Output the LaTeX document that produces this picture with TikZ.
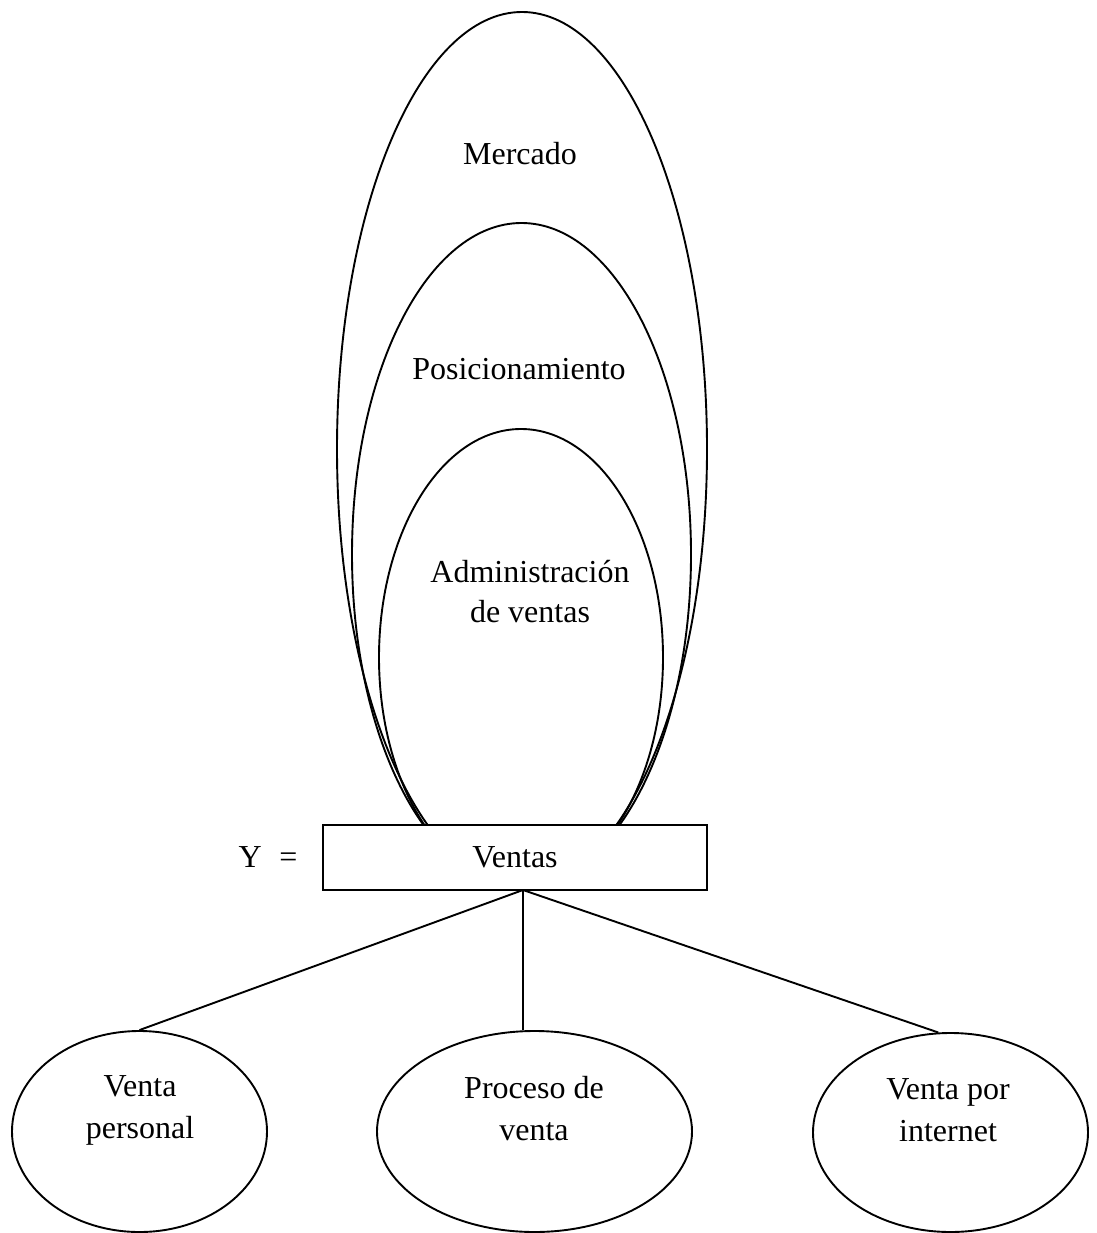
\documentclass[tikz,border=0pt]{standalone}
\usepackage{fontspec}
\setmainfont{Liberation Serif}
\usetikzlibrary{shapes.geometric}
\begin{document}
\begin{tikzpicture}[x=1pt,y=-1pt,
  every node/.style={font=\fontsize{32}{40}\selectfont},
  oval/.style={draw,ellipse,line width=1.9pt,inner sep=0pt},
  lbl/.style={anchor=base,inner sep=0pt,align=center},
  lbl2/.style={anchor=base,inner sep=0pt,align=center,font=\fontsize{32}{42}\selectfont},
  conn/.style={line width=1.9pt}]
\useasboundingbox (0,0) rectangle (1096,1233);
% nested ovals
\node[oval,minimum width=370pt,minimum height=874pt] (mercado) at (522,449) {};
\node[oval,minimum width=339pt,minimum height=663pt] (posic) at (521.5,554.5) {};
\node[oval,minimum width=284pt,minimum height=457pt] (admin) at (521,657.5) {};
\node[lbl] (tmerc) at (520,165) {Mercado};
\node[lbl] (tposic) at (519,379) {Posicionamiento};
% base anchor of a two-line node = baseline of its last line
\node[lbl] (tadmin) at (530,622) {Administración\\de ventas};
% box
\node[draw,fill=white,line width=1.9pt,minimum width=384pt,minimum height=65pt,inner sep=0pt] (box) at (515,857.5) {};
\node[lbl] (tvent) at (515,867) {Ventas};
\node[lbl] (ylab) at (268,867) {Y\hspace{0.55em}=};
% bottom ovals
\node[oval,minimum width=255pt,minimum height=201pt] (vp) at (139.5,1131.5) {};
\node[oval,minimum width=315pt,minimum height=201pt] (pv) at (534.5,1131.5) {};
\node[oval,minimum width=275pt,minimum height=199pt] (vi) at (950.5,1132.5) {};
\node[lbl2] (tvp) at (140,1138) {Venta\\personal};
\node[lbl2] (tpv) at (534,1140) {Proceso de\\venta};
\node[lbl2] (tvi) at (948,1141) {Venta por\\internet};
% connectors
\coordinate (root) at (523,890);
\draw[conn] (root) -- (vp.north);
\draw[conn] (root) -- (root |- pv.north);
\draw[conn] (root) -- (vi.97);
\end{tikzpicture}
\end{document}
